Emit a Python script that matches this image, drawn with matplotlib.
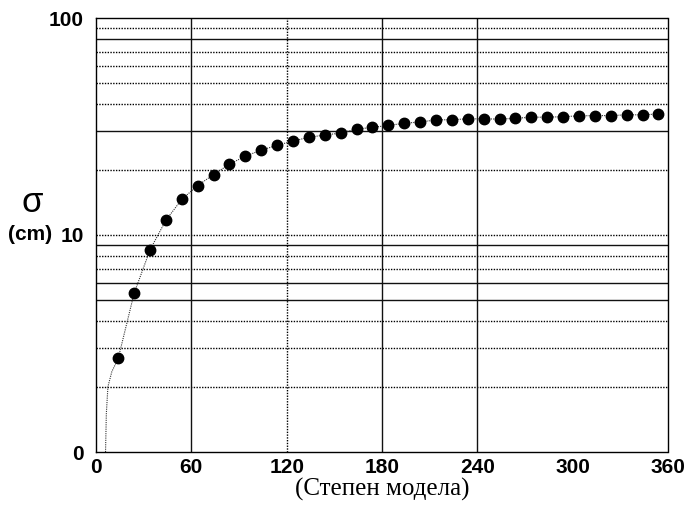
import numpy as np
import matplotlib.pyplot as plt

# model degree and sigma (cm)
degree = [14, 24, 34, 44, 54, 64, 74, 84, 94, 104, 114, 124, 134, 144, 154, 164, 174, 184,
          194, 204, 214, 224, 234, 244, 254, 264, 274, 284, 294, 304, 314, 324, 334, 344, 354]
sigma = [2.70, 5.39, 8.54, 11.7, 14.6, 16.9, 19.0, 21.2, 23.1, 24.6, 25.9, 27.1, 28.2, 28.9,
         29.5, 30.8, 31.3, 32.0, 32.7, 33.2, 33.9, 34.0, 34.3, 34.3, 34.2, 34.5, 34.9, 34.9,
         35.1, 35.4, 35.5, 35.5, 35.8, 35.8, 36.1]

# dotted fit curve runs down to the axis below the first point
head_x = [6, 6.5, 7.5, 10]
head_y = [1.0, 1.5, 2.0, 2.35]

ytick_vals = [1, 10, 100]
ytick_labels = ["0", "10", "100"]
xtick_vals = [0, 60, 120, 180, 240, 300, 360]

hgrid_solid = [80, 30, 9, 6, 5]
hgrid_dotted = [90, 70, 60, 50, 40, 20, 10, 8, 7, 4, 3, 2]
vgrid_solid = [60, 180, 240]
vgrid_dotted = [120]

dots = (0, (1, 1))

fig = plt.figure(figsize=(6.89, 5.09), dpi=100)
ax = fig.add_axes([96 / 689, 1 - 452 / 509, 572 / 689, 434 / 509])
ax.set_yscale("log")
ax.set_xlim(0, 360)
ax.set_ylim(1, 100)

for v in hgrid_solid:
    ax.axhline(v, color="#111111", lw=1.0, zorder=1)
for v in hgrid_dotted:
    ax.axhline(v, color="black", lw=1.0, ls=dots, zorder=1)
for v in vgrid_solid:
    ax.axvline(v, color="#111111", lw=1.0, zorder=1)
for v in vgrid_dotted:
    ax.axvline(v, color="black", lw=1.0, ls=dots, zorder=1)

ax.plot(head_x + degree, head_y + sigma, color="#333333", lw=0.8, ls=dots, zorder=2)
ax.plot(degree, sigma, "o", color="black", ms=7.5, zorder=3)

for s in ax.spines.values():
    s.set_linestyle(dots)
    s.set_linewidth(1.0)
    s.set_color("black")

ax.yaxis.set_major_locator(plt.FixedLocator(ytick_vals))
ax.yaxis.set_minor_locator(plt.NullLocator())
ax.set_yticks(ytick_vals)
ax.set_yticklabels(ytick_labels)
ax.set_xticks(xtick_vals)
ax.set_xticklabels([str(v) for v in xtick_vals])
ax.tick_params(length=0, labelsize=15)
ax.tick_params(axis="y", pad=9)
ax.tick_params(axis="x", pad=4)
for lab in ax.get_xticklabels() + ax.get_yticklabels():
    lab.set_fontfamily("Liberation Sans")
    lab.set_fontweight("bold")

fig.text(32 / 689, 1 - 203 / 509, "σ", fontsize=25, family="Liberation Sans",
         ha="center", va="center")
fig.text(30 / 689, 1 - 235 / 509, "(cm)", fontsize=15, family="Liberation Sans",
         fontweight="bold", ha="center", va="center")
fig.text(382 / 689, 1 - 489 / 509, "(Степен модела)", fontsize=18,
         family="Liberation Serif", ha="center", va="center")

fig.savefig("out.png", dpi=100)
